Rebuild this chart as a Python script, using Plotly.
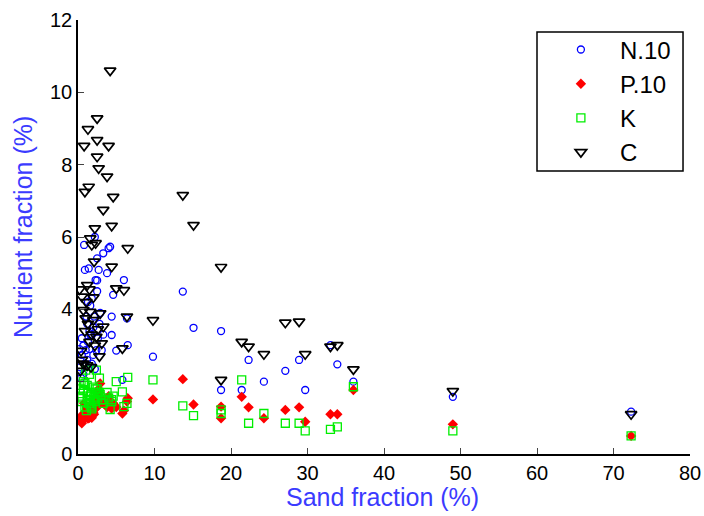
import plotly.graph_objects as go

# Sand fraction (%) for each sample
sand = [2.5, 1.3, 0.8, 2.5, 2.5, 2.7, 1.4, 0.9, 3.3, 2.2,
        1.6, 2.3, 1.8, 2.1, 0.2, 1.2, 1.5, 0.5, 2.0, 0.7,
        1.6, 2.9, 3.3, 2.4, 3.1, 1.0, 1.3, 2.0, 2.6, 1.8,
        2.2, 0.5, 0.7, 1.2, 1.7, 0.3, 2.8, 1.5, 0.4, 1.1,
        0.9,
        4.2, 4.0, 3.8, 4.6, 4.4, 6.5, 4.4, 5.0, 6.0, 5.8, 6.4,
        9.8, 13.7, 15.1, 18.7, 18.7, 21.4, 22.3, 24.3, 27.1, 28.9,
        29.7, 33.0, 33.9, 36.0, 49.0, 72.3]

n10 = [5.41, 4.20, 5.78, 4.80, 4.50, 5.09, 5.13, 5.09, 5.55, 6.00,
       4.10, 4.81, 4.30, 3.80, 2.90, 3.60, 3.40, 3.20, 3.50, 3.00,
       3.30, 3.90, 3.30, 2.87, 2.87, 2.87, 3.10, 2.74, 3.20, 2.50,
       2.35, 2.74, 2.20, 2.60, 3.29, 2.40, 3.60, 2.90, 2.10, 3.80,
       2.50,
       5.73, 5.69, 5.00, 4.40, 3.80, 3.01, 3.29, 2.86, 4.81, 2.05, 3.75,
       2.69, 4.49, 3.49, 3.40, 1.77, 1.77, 2.60, 2.00, 2.30, 2.60,
       1.77, 3.01, 2.48, 2.00, 1.58, 1.17]

p10 = [1.30, 1.20, 1.40, 1.60, 1.50, 1.80, 1.30, 1.10, 1.40, 1.50,
       1.20, 1.40, 1.00, 1.10, 0.95, 1.25, 1.05, 0.90, 1.15, 1.00,
       1.20, 1.95, 1.50, 1.30, 1.45, 1.10, 0.98, 1.35, 1.60, 1.25,
       1.40, 0.85, 0.95, 1.05, 1.15, 0.92, 1.70, 1.00, 1.05, 1.20,
       0.98,
       1.45, 1.60, 1.30, 1.40, 1.26, 1.54, 1.35, 1.30, 1.20, 1.12, 1.45,
       1.51, 2.07, 1.37, 1.31, 0.99, 1.58, 1.29, 0.99, 1.22, 1.29,
       0.89, 1.10, 1.10, 1.77, 0.82, 0.50]

k = [1.70, 1.50, 1.90, 1.80, 1.60, 1.70, 1.40, 1.30, 1.50, 1.70,
     1.60, 1.80, 1.30, 1.50, 1.60, 1.90, 2.20, 1.45, 1.55, 1.75,
     1.35, 1.65, 1.40, 2.32, 1.50, 2.32, 1.70, 1.85, 1.55, 1.25,
     1.45, 1.55, 2.00, 1.60, 1.65, 1.80, 2.10, 1.40, 1.90, 1.20,
     1.95,
     1.23, 1.55, 1.70, 1.60, 1.45, 2.12, 1.50, 2.00, 1.31, 1.72, 1.40,
     2.05, 1.33, 1.06, 1.22, 1.12, 2.05, 0.85, 1.12, 0.85, 0.85,
     0.64, 0.68, 0.75, 1.86, 0.64, 0.50]

c = [9.28, 8.98, 8.52, 8.68, 8.22, 7.90, 7.39, 7.25, 6.75, 6.24,
     5.96, 5.83, 5.78, 5.32, 4.55, 4.67, 4.55, 4.35, 4.33, 3.98,
     3.93, 3.89, 3.52, 3.24, 3.06, 3.75, 3.60, 3.70, 3.45, 3.30,
     3.00, 2.60, 2.50, 2.45, 2.40, 2.30, 2.70, 3.10, 2.85, 4.20,
     3.40,
     10.6, 8.52, 7.67, 7.11, 6.31, 5.69, 5.18, 4.58, 4.53, 2.92, 3.80,
     3.70, 7.16, 6.33, 5.17, 2.05, 3.10, 2.97, 2.76, 3.63, 3.66,
     2.76, 2.97, 3.01, 2.34, 1.74, 1.10]

series_names = ["N.10", "P.10", "K", "C"]
x_ticks = [0, 10, 20, 30, 40, 50, 60, 70, 80]
y_ticks = [0, 2, 4, 6, 8, 10, 12]

FONT = "Liberation Sans, Arial, sans-serif"
TITLE_BLUE = "#3b3bff"

fig = go.Figure()
fig.add_trace(go.Scatter(x=sand, y=n10, mode="markers", name=series_names[0],
                         marker=dict(symbol="circle-open", size=7, color="#0000ff",
                                     line=dict(width=1.3))))
fig.add_trace(go.Scatter(x=sand, y=p10, mode="markers", name=series_names[1],
                         marker=dict(symbol="diamond", size=8, color="#ff0000",
                                     line=dict(width=0))))
fig.add_trace(go.Scatter(x=sand, y=k, mode="markers", name=series_names[2],
                         marker=dict(symbol="square-open", size=8, color="#00ee00",
                                     line=dict(width=1.3))))
fig.add_trace(go.Scatter(x=sand, y=c, mode="markers", name=series_names[3],
                         marker=dict(symbol="triangle-down-open", size=10, color="#000000",
                                     line=dict(width=1.7))))

# legend frame
fig.add_shape(type="rect", xref="paper", yref="paper",
              x0=0.75, x1=0.9886, y0=0.652, y1=0.9724,
              line=dict(color="black", width=1.5), fillcolor="white", layer="below")

# axis titles
fig.add_annotation(text="Sand fraction (%)", xref="paper", yref="paper",
                   x=0.497, y=-0.0985, xanchor="center", yanchor="middle",
                   showarrow=False, font=dict(family=FONT, size=25, color=TITLE_BLUE))
fig.add_annotation(text="Nutrient fraction (%)", xref="paper", yref="paper",
                   x=-0.0899, y=0.523, xanchor="center", yanchor="middle", textangle=-90,
                   showarrow=False, font=dict(family=FONT, size=25, color=TITLE_BLUE))

fig.update_layout(
    width=704, height=516,
    margin=dict(l=78, r=14, t=20, b=62, autoexpand=False),
    paper_bgcolor="white", plot_bgcolor="white",
    font=dict(family=FONT, size=20, color="black"),
    showlegend=True,
    legend=dict(x=0.758, y=0.983, xanchor="left", yanchor="top",
                bgcolor="rgba(0,0,0,0)", borderwidth=0,
                font=dict(family=FONT, size=24, color="black"),
                itemwidth=68, tracegroupgap=0),
    xaxis=dict(range=[0, 80], tickvals=x_ticks, ticks="inside", ticklen=6,
               showline=True, linecolor="black", linewidth=1.5, mirror=False,
               showgrid=False, zeroline=False, automargin=False,
               tickfont=dict(family=FONT, size=20, color="black")),
    yaxis=dict(range=[0, 12], tickvals=y_ticks, ticks="inside", ticklen=6,
               showline=True, linecolor="black", linewidth=1.5, mirror=False,
               showgrid=False, zeroline=False, automargin=False,
               tickfont=dict(family=FONT, size=20, color="black")),
)

# remove the default page margin so the 704x516 figure fills the window exactly
fig.write_html("out.html",
               config={"displayModeBar": False},
               post_script="document.body.style.margin='0';document.body.style.overflow='hidden';")
